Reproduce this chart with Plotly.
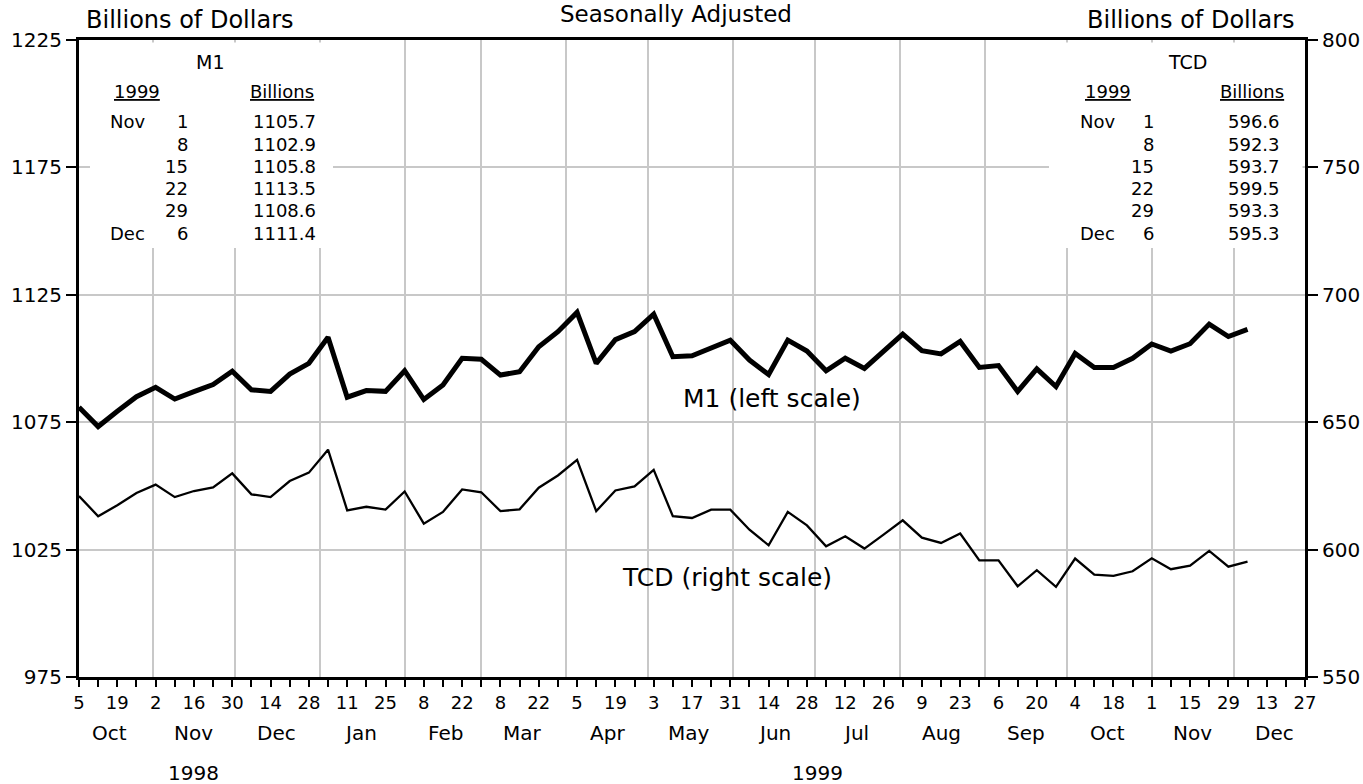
import pandas as pd
import plotly.graph_objects as go

# ---------------- data ----------------
start_date = "1998-10-05"
m1 = [1080.9, 1073.3, 1079.3, 1085.0, 1088.7, 1084.1, 1087.0, 1089.8, 1095.0, 1087.7,
      1087.1, 1093.9, 1098.1, 1108.3, 1084.8, 1087.4, 1087.1, 1095.2, 1083.9, 1089.6,
      1100.1, 1099.7, 1093.5, 1094.8, 1104.6, 1110.5, 1118.1, 1098.1, 1107.4, 1110.6,
      1117.4, 1100.7, 1101.1, 1104.1, 1107.2, 1099.4, 1093.7, 1107.2, 1102.9, 1095.2,
      1100.1, 1096.1, 1103.1, 1109.6, 1103.1, 1101.8, 1106.7, 1096.5, 1097.2, 1087.1,
      1095.9, 1089.0, 1102.0, 1096.5, 1096.5, 1100.1, 1105.7, 1102.9, 1105.8, 1113.5,
      1108.6, 1111.4]
tcd = [621.0, 613.1, 617.4, 622.2, 625.5, 620.6, 623.0, 624.4, 629.9, 621.7,
       620.6, 626.9, 630.2, 639.2, 615.4, 616.8, 615.7, 622.8, 610.2, 614.8,
       623.6, 622.5, 615.1, 615.8, 624.3, 629.1, 635.2, 615.1, 623.2, 624.8,
       631.3, 613.1, 612.4, 615.7, 615.7, 607.8, 601.7, 614.8, 609.5, 601.3,
       605.2, 600.4, 605.9, 611.5, 604.7, 602.6, 606.3, 595.8, 595.8, 585.6,
       591.9, 585.4, 596.5, 590.2, 589.7, 591.5, 596.6, 592.3, 593.7, 599.5,
       593.3, 595.3]
dates = pd.date_range(start_date, periods=len(m1), freq="7D")

x_tick_labels = ["5", "19", "2", "16", "30", "14", "28", "11", "25", "8", "22", "8", "22",
                 "5", "19", "3", "17", "31", "14", "28", "12", "26", "9", "23", "6", "20",
                 "4", "18", "1", "15", "29", "13", "27"]
x_tick_dates = pd.date_range(start_date, periods=len(x_tick_labels), freq="14D")
minor_tick_dates = pd.date_range("1998-10-12", x_tick_dates[-1], freq="14D")

month_names = ["Oct", "Nov", "Dec", "Jan", "Feb", "Mar", "Apr", "May", "Jun",
               "Jul", "Aug", "Sep", "Oct", "Nov", "Dec"]
month_label_dates = [pd.Timestamp(d.year, d.month, 16)
                     for d in pd.date_range("1998-10-01", periods=len(month_names), freq="MS")]
month_start_dates = pd.date_range("1998-11-01", "1999-12-01", freq="MS")

year_labels = ["1998", "1999"]
year_label_dates = ["1998-11-16", "1999-07-02"]

left_ticks = [975, 1025, 1075, 1125, 1175, 1225]
right_ticks = [550, 600, 650, 700, 750, 800]

# ---------------- layout helpers ----------------
FONT = "DejaVu Sans"
L, R, T, B = 79, 1305, 40, 677
W, H = R - L, B - T


def px(x):
    return (x - L) / W


def py(y):
    return (B - y) / H


def ann(text, x, y, xanchor="center", size=18, underline=False):
    font = dict(family=FONT, size=size, color="black")
    if underline:
        font["lineposition"] = "under"
    return dict(text=text, xref="paper", yref="paper", x=px(x), y=py(y),
                xanchor=xanchor, yanchor="middle", showarrow=False, font=font)


fig = go.Figure()
fig.add_trace(go.Scatter(x=dates, y=m1, mode="lines", xaxis="x", yaxis="y",
                         line=dict(color="black", width=5), showlegend=False))
fig.add_trace(go.Scatter(x=dates, y=tcd, mode="lines", xaxis="x2", yaxis="y2",
                         line=dict(color="black", width=2.3), showlegend=False))

annotations = []
annotations.append(ann("Billions of Dollars", 84, 20, "left", 24))
annotations.append(ann("Billions of Dollars", 1297, 20, "right", 24))
annotations.append(ann("Seasonally Adjusted", 676, 14, "center", 23))
annotations.append(ann("M1 (left scale)", 772, 398, "center", 25))
annotations.append(ann("TCD (right scale)", 727, 577, "center", 25))

# tables of the last six weeks
rows = list(range(len(dates) - 6, len(dates)))


def table(title, series, title_x, yr_x, bil_x, mon_x, day_x, val_x):
    out = [ann(title, title_x, 62, "center", 19),
           ann("1999", yr_x, 92, "center", 18, True),
           ann("Billions", bil_x, 92, "center", 18, True)]
    prev_month = None
    for k, i in enumerate(rows):
        d = dates[i]
        y = 122 + 22.2 * k
        mon = d.strftime("%b") if d.month != prev_month else ""
        prev_month = d.month
        if mon:
            out.append(ann(mon, mon_x, y, "left", 18))
        out.append(ann(str(d.day), day_x, y, "right", 18))
        out.append(ann(f"{series[i]:.1f}", val_x, y, "right", 18))
    return out


annotations += table("M1", m1, 210, 137, 282, 108, 190, 318)
annotations += table("TCD", tcd, 1187, 1108, 1252, 1078, 1156, 1282)

for name, d in zip(month_names, month_label_dates):
    annotations.append(dict(text=name, xref="x", yref="paper", x=d, y=py(733),
                            xanchor="center", yanchor="middle", showarrow=False,
                            font=dict(family=FONT, size=20, color="black")))
for name, d in zip(year_labels, year_label_dates):
    annotations.append(dict(text=name, xref="x", yref="paper", x=d, y=py(773),
                            xanchor="center", yanchor="middle", showarrow=False,
                            font=dict(family=FONT, size=20, color="black")))

# white panels behind the tables (they hide the grid there; no data passes through them)
shapes = [
    dict(type="rect", xref="paper", yref="paper", x0=px(90), x1=px(333),
         y0=py(248), y1=py(42.5), fillcolor="white", line=dict(width=0), layer="above"),
    dict(type="rect", xref="paper", yref="paper", x0=px(1049), x1=px(1302.5),
         y0=py(248), y1=py(42.5), fillcolor="white", line=dict(width=0), layer="above"),
]

xrange = [x_tick_dates[0], x_tick_dates[-1]]
fig.update_layout(
    width=1363, height=784,
    margin=dict(l=L, r=1363 - R, t=T, b=784 - B, pad=0, autoexpand=False),
    paper_bgcolor="white", plot_bgcolor="white",
    font=dict(family=FONT, size=19, color="black"),
    # main x axis: month-start grid lines and the frame
    xaxis=dict(type="date", range=xrange, tickmode="array", tickvals=month_start_dates,
               showticklabels=False, ticks="", showgrid=True, gridcolor="#c8c8c8",
               gridwidth=1.5, zeroline=False, automargin=False,
               showline=True, linecolor="black", linewidth=3, mirror=True),
    # overlay x axis: weekly ticks and day labels
    xaxis2=dict(type="date", range=xrange, overlaying="x", anchor="y", side="bottom",
                tickmode="array", tickvals=x_tick_dates, ticktext=x_tick_labels,
                ticks="outside", ticklen=9, tickwidth=1.5, tickcolor="black",
                showgrid=False, zeroline=False, showline=False, automargin=False,
                tickfont=dict(family=FONT, size=18),
                minor=dict(tickmode="array", tickvals=minor_tick_dates, ticks="outside",
                           ticklen=9, tickwidth=1.5, tickcolor="black", showgrid=False)),
    yaxis=dict(range=[975, 1225], tickmode="array", tickvals=left_ticks,
               ticks="outside", ticklen=10, tickwidth=1.5, tickcolor="black",
               showgrid=True, gridcolor="#c8c8c8", gridwidth=1.5, zeroline=False,
               showline=True, linecolor="black", linewidth=3, automargin=False,
               tickfont=dict(family=FONT, size=20)),
    yaxis2=dict(range=[550, 800], overlaying="y", anchor="x", side="right", tickmode="array",
                tickvals=right_ticks, ticks="outside", ticklen=10, tickwidth=1.5,
                tickcolor="black", showgrid=False, zeroline=False, automargin=False,
                showline=True, linecolor="black", linewidth=3,
                tickfont=dict(family=FONT, size=20)),
    annotations=annotations,
    shapes=shapes,
    showlegend=False,
)

fig.write_html("out.html", config={"displayModeBar": False},
               post_script="document.body.style.margin='0';")
